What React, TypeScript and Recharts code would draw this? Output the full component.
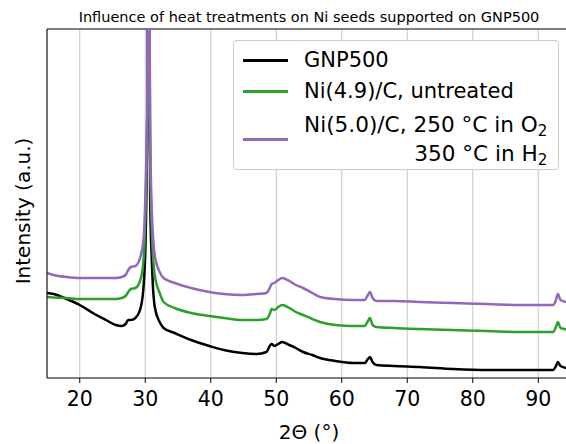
import React from 'react';
import { LineChart, Line, XAxis, YAxis, CartesianGrid, ReferenceLine, Legend } from 'recharts';

const angles = [15, 16, 18, 20, 22, 24, 25.5, 26.4, 27.0, 27.4, 27.8, 28.5, 29.2, 29.7, 30.05, 30.3, 30.5, 30.75, 31.0, 31.45, 32.2, 32.8, 34.5, 37, 39.8, 42, 44.8, 47, 48.5, 49.0, 49.3, 49.7, 50.3, 50.9, 52, 53, 54.1, 55.5, 56.7, 59, 61.7, 63.5, 64.0, 64.3, 64.7, 65.3, 68, 71.9, 77, 82.2, 88, 92.3, 92.7, 93.0, 93.4, 95];

const gnp500 = [85, 84, 79, 73, 65, 58, 53, 52, 54, 58, 58, 60, 68, 88, 138, 258, 500, 178, 118, 71, 56, 50, 45, 38, 32, 28, 25, 24, 26, 32, 34, 32, 34, 36, 33, 30, 26, 23, 20, 17, 15, 15, 19, 21, 16, 13, 12, 11, 9, 8, 8, 8, 12, 16, 12, 9];

const niUntreated = [81, 80.5, 80, 79, 79, 79, 79, 80, 82, 86, 89, 90, 97, 115, 170, 258, 500, 228, 148, 103, 85, 76, 70, 65, 62, 60, 58, 58, 59, 64, 69, 68, 71, 73, 70, 66, 63, 59, 56, 53, 52, 52, 57, 60, 53, 51, 50, 49, 48, 47, 46, 46, 51, 56, 50, 48];

const niTreated = [105, 103, 101, 100, 100, 100, 100, 101, 103, 108, 111, 112, 120, 136, 190, 278, 520, 248, 168, 123, 106, 100, 95, 90, 86, 84, 83, 84, 85, 90, 94, 95, 98, 100, 97, 93, 90, 85, 81, 79, 78, 78, 83, 86, 80, 77, 77, 76, 75, 74, 73, 73, 78, 84, 78, 75];

const xTicks = [20, 30, 40, 50, 60, 70, 80, 90];

const rows = angles.map((a, i) => ({
  angle: a,
  gnp500: gnp500[i],
  niUntreated: niUntreated[i],
  niTreated: niTreated[i],
}));

const FONT = '"DejaVu Sans", sans-serif';

const sub = { fontSize: '0.7em', verticalAlign: '-0.25em', lineHeight: 0 } as React.CSSProperties;

const LegendBox = () => (
  <div
    style={{
      position: 'absolute',
      left: 0,
      top: 0,
      width: 326,
      height: 130,
      boxSizing: 'border-box',
      border: '1px solid #cccccc',
      borderRadius: 4,
      background: '#ffffff',
      fontFamily: FONT,
      fontSize: 21,
      color: '#000',
      lineHeight: 1,
    }}
  >
    <div style={{ position: 'absolute', left: 9, top: 18, width: 45, height: 2.5, background: '#000000' }} />
    <div style={{ position: 'absolute', left: 70, top: 8.5, whiteSpace: 'nowrap' }}>GNP500</div>
    <div style={{ position: 'absolute', left: 9, top: 49, width: 45, height: 2.5, background: '#2ca02c' }} />
    <div style={{ position: 'absolute', left: 70, top: 39.5, whiteSpace: 'nowrap' }}>Ni(4.9)/C, untreated</div>
    <div style={{ position: 'absolute', left: 9, top: 97, width: 45, height: 2.5, background: '#9467bd' }} />
    <div style={{ position: 'absolute', left: 70, top: 72.5, whiteSpace: 'nowrap', textAlign: 'right', fontSize: 21.6 }}>
      <div style={{ height: 29, lineHeight: '21px' }}>
        Ni(5.0)/C, 250 °C in O<span style={sub}>2</span>
      </div>
      <div style={{ height: 29, lineHeight: '21px' }}>
        350 °C in H<span style={sub}>2</span>
      </div>
    </div>
  </div>
);

const YLabel = () => (
  <text
    x={23}
    y={211}
    transform="rotate(-90, 23, 211)"
    textAnchor="middle"
    dominantBaseline="central"
    fontSize={20}
    fontFamily={FONT}
    fill="#000"
  >
    Intensity (a.u.)
  </text>
);

export default function App() {
  return (
    <div
      style={{
        position: 'absolute',
        left: 0,
        top: 0,
        width: 566,
        height: 444,
        overflow: 'hidden',
        background: '#fff',
        fontFamily: FONT,
      }}
    >
      <div
        style={{
          position: 'absolute',
          left: 0,
          top: 9,
          width: 618,
          textAlign: 'center',
          fontSize: 14.5,
          lineHeight: '16px',
          color: '#000',
          whiteSpace: 'nowrap',
        }}
      >
        Influence of heat treatments on Ni seeds supported on GNP500
      </div>
      <LineChart
        width={571}
        height={444}
        data={rows}
        margin={{ top: 29, right: 0, left: 0, bottom: 0 }}
        style={{ fontFamily: FONT }}
      >
        <CartesianGrid vertical horizontal={false} stroke="#c8c8c8" strokeWidth={1} />
        <XAxis
          dataKey="angle"
          type="number"
          domain={[15, 95]}
          ticks={xTicks}
          allowDataOverflow
          height={66}
          tickSize={5}
          tickMargin={8}
          stroke="#000"
          tick={{ fontSize: 20.5, fill: '#000', fontFamily: FONT }}
          label={{ value: '2Θ (°)', position: 'insideBottom', offset: 5, fontSize: 20, fill: '#000', fontFamily: FONT }}
        />
        <YAxis
          type="number"
          domain={[0, 349]}
          allowDataOverflow
          width={47}
          tick={false}
          tickLine={false}
          stroke="#000"
          label={<YLabel />}
        />
        <ReferenceLine y={349} stroke="#000" strokeWidth={1} ifOverflow="visible" />
        <Line
          type="monotone"
          dataKey="gnp500"
          stroke="#000000"
          strokeWidth={2.5}
          dot={false}
          isAnimationActive={false}
        />
        <Line
          type="monotone"
          dataKey="niUntreated"
          stroke="#2ca02c"
          strokeWidth={2.5}
          dot={false}
          isAnimationActive={false}
        />
        <Line
          type="monotone"
          dataKey="niTreated"
          stroke="#9467bd"
          strokeWidth={2.5}
          dot={false}
          isAnimationActive={false}
        />
        <Legend
          content={<LegendBox />}
          wrapperStyle={{ position: 'absolute', left: 233, top: 40, width: 0, height: 0, overflow: 'visible' }}
        />
      </LineChart>
    </div>
  );
}
